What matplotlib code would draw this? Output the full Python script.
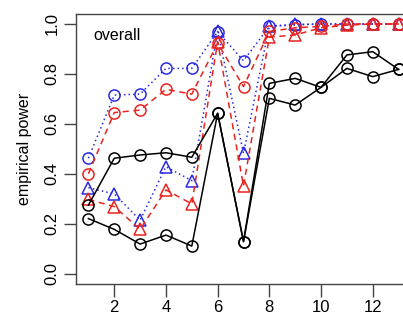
import matplotlib
matplotlib.use("Agg")
import matplotlib.pyplot as plt

plt.rcParams['font.family'] = ['Liberation Sans', 'DejaVu Sans']

x = list(range(1, 14))

black_a = [0.274, 0.462, 0.475, 0.484, 0.466, 0.642, 0.128, 0.762, 0.782, 0.746, 0.876, 0.889, 0.818]
black_b = [0.220, 0.177, 0.118, 0.154, 0.110, 0.642, 0.128, 0.702, 0.675, 0.746, 0.822, 0.789, 0.818]
red_circ = [0.400, 0.645, 0.655, 0.738, 0.719, 0.923, 0.749, 0.970, 0.985, 0.990, 1.000, 1.000, 1.000]
red_tri = [0.297, 0.268, 0.177, 0.335, 0.279, 0.929, 0.351, 0.947, 0.956, 0.985, 0.995, 1.000, 1.000]
blue_circ = [0.462, 0.715, 0.719, 0.822, 0.822, 0.969, 0.853, 0.990, 0.996, 1.000, 1.000, 1.000, 1.000]
blue_tri = [0.344, 0.319, 0.214, 0.428, 0.372, 0.970, 0.482, 0.992, 0.998, 1.000, 1.000, 1.000, 1.000]

xticks = [2, 4, 6, 8, 10, 12]
yticks = [0.0, 0.2, 0.4, 0.6, 0.8, 1.0]

W, H = 403, 320
fig = plt.figure(figsize=(W / 100, H / 100), dpi=100)
ax = fig.add_axes([76 / W, 36.5 / H, (411 - 76) / W, (283.5 - 14) / H])

RED = '#e8231f'
BLUE = '#2a2ae0'
ms_c = 8.0
ms_t = 9.0
mew = 1.1
lw = 1.1

ax.plot(x, blue_circ, color=BLUE, ls=(0, (1, 2)), lw=lw, marker='o', ms=ms_c, mfc='none', mew=mew)
ax.plot(x, blue_tri, color=BLUE, ls=(0, (1, 2)), lw=lw, marker='^', ms=ms_t, mfc='none', mew=mew)
ax.plot(x, red_circ, color=RED, ls=(0, (4, 3)), lw=lw, marker='o', ms=ms_c, mfc='none', mew=mew)
ax.plot(x, red_tri, color=RED, ls=(0, (4, 3)), lw=lw, marker='^', ms=ms_t, mfc='none', mew=mew)
ax.plot(x, black_a, color='black', ls='-', lw=lw, marker='o', ms=ms_c, mfc='none', mew=mew)
ax.plot(x, black_b, color='black', ls='-', lw=lw, marker='o', ms=ms_c, mfc='none', mew=mew)

ax.set_xlim(0.52, 13.48)
ax.set_ylim(-0.04, 1.04)
ax.set_xticks(xticks)
ax.set_yticks(yticks)
ax.set_xticklabels([str(v) for v in xticks], fontsize=12)
ax.set_yticklabels([f"{v:.1f}" for v in yticks], fontsize=12, rotation=90, va='center')
ax.tick_params(axis='both', length=9, width=1, color='#444444', pad=3)

for s in ax.spines.values():
    s.set_color('#444444')
    s.set_linewidth(1.0)

ax.set_ylabel('empirical power', fontsize=11.5, labelpad=9)
ax.text(93 / W, (H - 36) / H, 'overall', transform=fig.transFigure, fontsize=11.5, va='center', ha='left')

fig.savefig('out.png', dpi=100)
